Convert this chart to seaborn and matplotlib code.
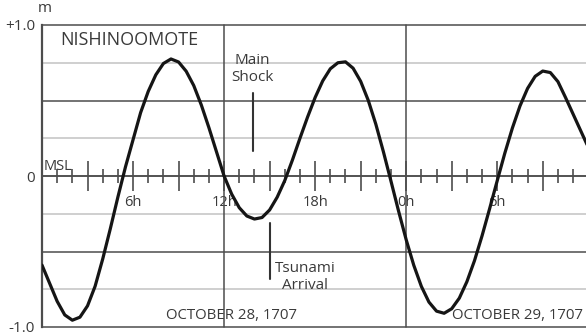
import numpy as np
import matplotlib
matplotlib.use("Agg")
import matplotlib.pyplot as plt
import seaborn as sns
from matplotlib.ticker import MultipleLocator, FuncFormatter

# Tide record at Nishinoomote, 28-29 October 1707 (hours from 0h on the 28th)
hours = np.arange(0, 36.5, 0.5)
sea_level = [
    -0.59, -0.71, -0.83, -0.92, -0.955, -0.935, -0.86, -0.73, -0.55, -0.35,
    -0.14, 0.06, 0.24, 0.42, 0.56, 0.67, 0.745, 0.775, 0.755, 0.694,
    0.599, 0.47, 0.32, 0.16, 0.0, -0.12, -0.21, -0.265, -0.285, -0.275,
    -0.225, -0.14, -0.03, 0.105, 0.25, 0.39, 0.52, 0.63, 0.71, 0.75,
    0.756, 0.714, 0.627, 0.501, 0.343, 0.16, -0.035, -0.233, -0.422, -0.591,
    -0.731, -0.835, -0.895, -0.909, -0.879, -0.809, -0.70, -0.561, -0.396, -0.216,
    -0.031, 0.151, 0.318, 0.464, 0.58, 0.66, 0.695, 0.685, 0.625, 0.52,
    0.41, 0.30, 0.19,
]

hour_ticks = [6, 12, 18, 24, 30]
hour_labels = ["6h", "12h", "18h", "0h", "6h"]
midnight_noon = [12, 24]
dark_levels = [-1.0, -0.5, 0.0, 0.5, 1.0]
light_levels = [-0.75, -0.25, 0.25, 0.75]
level_ticks = [-1.0, 0.0, 1.0]
level_labels = ["-1.0", "0", "+1.0"]
main_shock_hour = 13.9
tsunami_hour = 15.0
date_labels = ["OCTOBER 28, 1707", "OCTOBER 29, 1707"]
date_hours = [8.15, 27.05]

sns.set_style("white")
plt.rcParams["font.family"] = ["Open Sans", "DejaVu Sans"]

TEXT = "#3a3a3a"
DARK = "#4d4d4d"
LIGHT = "#c2c2c2"

fig = plt.figure(figsize=(5.86, 3.36), dpi=100)
ax = fig.add_axes([42 / 586, 9 / 336, 544 / 586, 302 / 336])
ax.set_xlim(0, 35.85)
ax.set_ylim(-1, 1)

for lv in light_levels:
    ax.axhline(lv, color=LIGHT, lw=1.1, zorder=1)
for lv in dark_levels:
    ax.axhline(lv, color=DARK, lw=1.1, zorder=1.5, clip_on=False)
for h in midnight_noon:
    ax.axvline(h, color=DARK, lw=1.1, zorder=1.5, clip_on=False)

sns.lineplot(x=hours, y=sea_level, ax=ax, color="#151515", lw=2.3, zorder=3)

# spines: left border plus the MSL line carrying the hour ticks
for side in ["top", "right"]:
    ax.spines[side].set_visible(False)
ax.spines["left"].set_color(DARK)
ax.spines["left"].set_linewidth(1.6)
ax.spines["bottom"].set_position(("data", 0))
ax.spines["bottom"].set_color(DARK)
ax.spines["bottom"].set_linewidth(1.1)

label_map = dict(zip(hour_ticks, hour_labels))
ax.xaxis.set_major_locator(MultipleLocator(3))
ax.xaxis.set_minor_locator(MultipleLocator(1))
ax.xaxis.set_major_formatter(FuncFormatter(lambda v, p: label_map.get(int(round(v)), "")))
ax.tick_params(axis="x", which="major", direction="inout", length=21, width=1.2,
               color=DARK, labelsize=10.5, labelcolor=TEXT, pad=3, bottom=True)
ax.tick_params(axis="x", which="minor", direction="inout", length=10, width=1.2,
               color=DARK, bottom=True)

ax.set_yticks(level_ticks, level_labels)
ax.tick_params(axis="y", length=0, pad=5, labelsize=11, labelcolor=TEXT)
ax.set_xlabel("")
ax.set_ylabel("")

ax.text(0.17, 1.11, "m", fontsize=11, color=TEXT, ha="center", va="center", clip_on=False)
ax.text(1.19, 0.9, "NISHINOOMOTE", fontsize=13, color=TEXT, ha="left", va="center")
ax.text(0.13, 0.066, "MSL", fontsize=10.5, color=TEXT, ha="left", va="center")

# Main shock and tsunami arrival markers
ax.plot([main_shock_hour, main_shock_hour], [0.55, 0.165], color="#333333", lw=1.5, zorder=4)
ax.text(main_shock_hour - 0.05, 0.71, "Main\nShock", fontsize=11, color=TEXT,
        ha="center", va="center", linespacing=1.15)
ax.plot([tsunami_hour, tsunami_hour], [-0.31, -0.68], color="#333333", lw=1.5, zorder=4)
ax.text(17.35, -0.67, "Tsunami\nArrival", fontsize=11, color=TEXT,
        ha="center", va="center", linespacing=1.15)

for h, lab in zip(date_hours, date_labels):
    ax.text(h, -0.927, lab, fontsize=10.8, color=TEXT, ha="left", va="center")

fig.savefig("out.png", dpi=100)
